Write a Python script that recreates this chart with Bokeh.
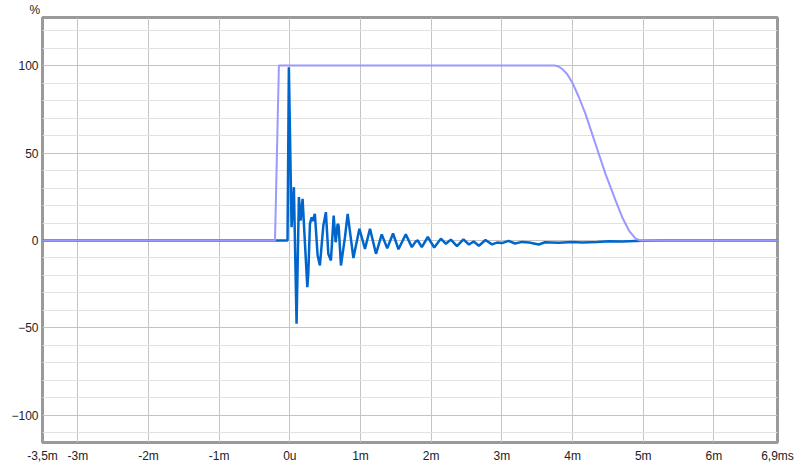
from bokeh.plotting import figure
from bokeh.models import FixedTicker, Range1d
from bokeh.embed import file_html
from bokeh.resources import INLINE

# impulse response (dark blue), time in ms, value in %
ir_t = [-3.5, -0.033, -0.014, 0.024, 0.057, 0.095, 0.128, 0.152, 0.180, 0.247,
        0.261, 0.284, 0.308, 0.322, 0.354, 0.393, 0.425, 0.474, 0.510, 0.544,
        0.581, 0.620, 0.648, 0.676, 0.690, 0.723, 0.780, 0.818, 0.899, 0.984,
        1.063, 1.134, 1.219, 1.300, 1.378, 1.460, 1.537, 1.640, 1.726, 1.782,
        1.810, 1.867, 1.952, 2.042, 2.137, 2.208, 2.278, 2.364, 2.456, 2.534,
        2.600, 2.675, 2.768, 2.860, 2.931, 3.001, 3.094, 3.186, 3.285, 3.385,
        3.522, 3.611, 3.806, 3.994, 4.136, 4.349, 4.519, 4.703, 4.987, 5.27, 6.9]
ir_v = [0, 0, 99, 7.6, 30.5, -47.6, 24.8, 11.4, 23.8, -26.7,
        -19, 9.5, 13.3, 11, 15.2, -8.6, -14.3, 8.6, 16.2, -7.6,
        -11.4, 14.3, -1, 9.5, 8.5, -14.3, 1.9, 15.2, -10, 6.7,
        -4.8, 6.7, -7.6, 3.5, -4.5, 4, -5, 3.5, -3.8, -0.5,
        0, -3.8, 2, -4, 1, -1.9, 0.5, -3.2, 0.6, -2.3,
        -0.6, -3, 0.3, -2.2, -1.2, -1.5, -0.2, -1.7, -0.8, -1.2,
        -2.3, -1, -1.3, -0.9, -1.1, -0.8, -0.5, -0.6, -0.2, 0, 0]

# window (light violet)
win_t = [-3.5, -0.21, -0.155, 3.745, 3.80, 3.852, 3.923, 3.994, 4.09, 4.183, 4.254,
         4.325, 4.395, 4.466, 4.537, 4.608, 4.703, 4.798, 4.892, 4.962, 6.9]
win_v = [0, 0, 100, 100, 99.5, 98.1, 95.2, 90.5, 81.9, 72.4, 63.8,
         55.2, 46.7, 38.1, 30.5, 22.9, 13.3, 5.7, 1, 0, 0]

x_ticks = [-3.5, -3, -2, -1, 0, 1, 2, 3, 4, 5, 6, 6.9]
x_labels = ["-3,5m", "-3m", "-2m", "-1m", "0u", "1m", "2m", "3m", "4m", "5m", "6m", "6,9ms"]
x_grid = [-3, -2, -1, 0, 1, 2, 3, 4, 5, 6]
y_ticks = [-100, -50, 0, 50, 100]
y_minor = [v for v in range(-110, 130, 10) if v % 50 != 0]
unit_label = "%"

p = figure(width=800, height=467, output_backend="svg", toolbar_location=None,
           x_range=Range1d(-3.5, 6.9), y_range=Range1d(-115.5, 127.5),
           min_border_left=42, min_border_right=23, min_border_top=17, min_border_bottom=25)

p.title.text = unit_label
p.title.align = "left"
p.title.offset = -13
p.title.standoff = 1
p.title.text_font = "Liberation Sans"
p.title.text_font_size = "12px"
p.title.text_font_style = "normal"
p.title.text_color = "#222222"

p.background_fill_color = "white"
p.border_fill_color = "white"
p.outline_line_color = "#9a9a9a"
p.outline_line_width = 3

p.xaxis.ticker = FixedTicker(ticks=x_ticks)
p.xaxis.major_label_overrides = {t: l for t, l in zip(x_ticks, x_labels)}
p.yaxis.ticker = FixedTicker(ticks=y_ticks, minor_ticks=y_minor)
p.xgrid.ticker = FixedTicker(ticks=x_grid)
p.ygrid.ticker = FixedTicker(ticks=y_ticks, minor_ticks=y_minor)

for ax in (p.xaxis[0], p.yaxis[0]):
    ax.axis_line_color = None
    ax.major_tick_line_color = None
    ax.minor_tick_line_color = None
    ax.major_tick_out = 0
    ax.major_tick_in = 0
    ax.minor_tick_out = 0
    ax.minor_tick_in = 0
    ax.major_label_text_font = "Liberation Sans"
    ax.major_label_text_font_size = "12px"
    ax.major_label_text_color = "#222222"
p.xaxis.major_label_standoff = 6
p.yaxis.major_label_standoff = 4

p.xgrid.grid_line_color = "#c4c4c4"
p.ygrid.grid_line_color = "#c4c4c4"
p.ygrid.minor_grid_line_color = "#e2e2e2"

p.line(ir_t, ir_v, line_color="#0066cc", line_width=2.5)
p.line(win_t, win_v, line_color="#9999ff", line_width=2)

open("out.html", "w").write(file_html(p, INLINE))
